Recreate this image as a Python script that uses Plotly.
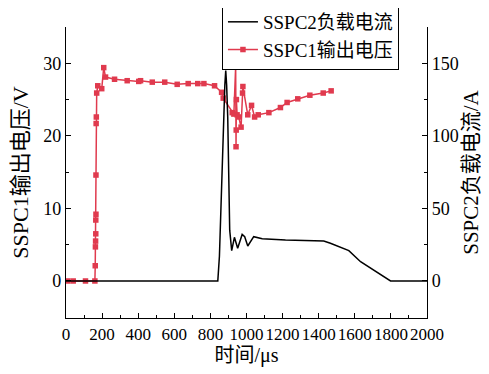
import plotly.graph_objects as go

# SSPC1 output voltage (V), left axis
v_t = [10, 40, 108, 160, 162, 163, 164, 165, 165, 166, 166, 167, 168, 170, 176, 198, 209, 219, 269, 339,
       403, 413, 478, 547, 616, 677, 730, 764, 823, 862, 871, 921, 930, 940, 942, 943, 944, 948, 957,
       970, 978, 980, 1007, 1028, 1045, 1065, 1124, 1188, 1225, 1284, 1351, 1425, 1469]
v_v = [0, 0, 0, 0, 2.1, 4.7, 5.5, 6.5, 8.4, 9.2, 14.6, 21.7, 22.6, 25.9, 26.9, 26.5, 29.4, 28.1, 27.8, 27.6,
       27.5, 27.6, 27.4, 27.4, 27.1, 27.2, 27.2, 27.2, 26.9, 26.0, 25.2, 23.2, 23.0, 29.6, 18.5, 20.8, 25.0,
       22.9, 22.6, 21.2, 25.9, 26.8, 22.9, 24.2, 22.6, 22.9, 23.2, 23.9, 24.6, 25.1, 25.6, 25.9, 26.2]

# SSPC2 load current (A), right axis
i_t = [0, 841, 850, 856, 865, 874, 880, 885, 890, 896, 902, 907, 918, 933, 951, 976, 990, 1007, 1040,
       1087, 1216, 1428, 1465, 1567, 1632, 1724, 1798, 2000]
i_v = [0, 0, 17, 44, 67, 113, 135, 145, 135, 113, 56, 35, 20.9, 30.1, 22.5, 32.1, 30.5, 24.1, 30.5,
       29.1, 28.2, 27.5, 26.0, 20.9, 13.3, 5.7, 0, 0]

x_ticks = list(range(0, 2001, 200))
y1_ticks = [0, 10, 20, 30]
y2_ticks = [0, 50, 100, 150]

FONT = "Liberation Serif, Noto Sans CJK SC"
RED = "#E03A4E"

fig = go.Figure()
fig.add_trace(go.Scatter(x=v_t, y=v_v, name="SSPC1输出电压", mode="lines+markers",
                         line=dict(color=RED, width=1.5),
                         marker=dict(symbol="square", size=5.5, color=RED), yaxis="y"))
fig.add_trace(go.Scatter(x=i_t, y=i_v, name="SSPC2负载电流", mode="lines",
                         line=dict(color="black", width=1.5), yaxis="y2"))

axis_common = dict(showline=True, linecolor="black", linewidth=1.2, ticks="inside", ticklen=5,
                   tickcolor="black", tickwidth=1, showgrid=False, zeroline=False, automargin=False)

fig.update_layout(
    width=481, height=366,
    margin=dict(l=58, r=62, t=19, b=56, autoexpand=False),
    paper_bgcolor="white", plot_bgcolor="white",
    font=dict(family=FONT, size=18, color="black"),
    xaxis=dict(range=[0, 2000], tickvals=x_ticks, tickangle=0,
               tickfont=dict(family=FONT, size=17, color="black"),
               minor=dict(dtick=100, ticks="inside", ticklen=3, tickcolor="black"),
               title=dict(text="时间/μs", font=dict(family=FONT, size=20), standoff=4),
               **axis_common),
    yaxis=dict(range=[-5.1, 35], tickvals=y1_ticks,
               tickfont=dict(family=FONT, size=18, color="black"),
               minor=dict(dtick=5, ticks="inside", ticklen=3, tickcolor="black"),
               title=dict(text="SSPC1输出电压/V", font=dict(family=FONT, size=22), standoff=8),
               **axis_common),
    yaxis2=dict(range=[-25.5, 175], tickvals=y2_ticks, overlaying="y", side="right",
                tickfont=dict(family=FONT, size=18, color="black"),
                minor=dict(dtick=25, ticks="inside", ticklen=3, tickcolor="black"),
                title=dict(text="SSPC2负载电流/A", font=dict(family=FONT, size=21), standoff=3),
                **axis_common),
    legend=dict(x=0.432, y=1.086, xanchor="left", yanchor="top",
                traceorder="reversed",
                bgcolor="white", bordercolor="black", borderwidth=1,
                font=dict(family=FONT, size=19), itemwidth=30, tracegroupgap=0),
    showlegend=True,
)

fig.write_html("out.html")
